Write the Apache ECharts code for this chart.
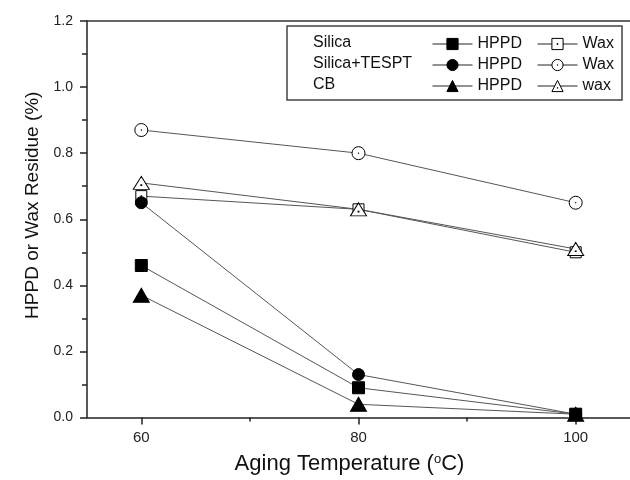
<!DOCTYPE html>
<html>
<head>
<meta charset="utf-8">
<script src="https://cdn.jsdelivr.net/npm/echarts@6/dist/echarts.min.js"></script>
<style>
  html, body { margin: 0; padding: 0; background: #fff; }
  #chart { width: 630px; height: 480px; }
</style>
</head>
<body>
<div id="chart"></div>
<script>
// data (%)
const temps = [60, 80, 100];
const silicaHppd = [0.46, 0.09, 0.01];
const silicaWax = [0.67, 0.63, 0.50];
const tesptHppd = [0.65, 0.13, 0.01];
const tesptWax = [0.87, 0.80, 0.65];
const cbHppd = [0.37, 0.04, 0.01];
const cbWax = [0.71, 0.63, 0.51];

const rowLabels = ['Silica', 'Silica+TESPT', 'CB'];
const majorTicks = [60, 80, 100];
const minorTicks = [70, 90];

const FONT = 'Liberation Sans, Arial, sans-serif';

// open markers with a dot in the middle
const openSquare = 'path://M0,0H10V10H0ZM4.6,4.6H5.4V5.4H4.6Z';
const openCircle = 'path://M0,7A7,7,0,1,1,14,7A7,7,0,1,1,0,7ZM6.6,7A0.4,0.4,0,1,1,7.4,7A0.4,0.4,0,1,1,6.6,7Z';
const openTriangle = 'path://M8,0L16,14H0ZM7.6,9H8.4V9.8H7.6Z';

const pairs = ys => temps.map((t, i) => [t, ys[i]]);

function makeSeries(name, ys, symbol, size, filled) {
    return {
        name: name,
        type: 'line',
        data: pairs(ys),
        symbol: symbol,
        symbolSize: size,
        lineStyle: { color: '#555', width: 1 },
        itemStyle: {
            color: filled ? '#000' : '#fff',
            borderColor: '#000',
            borderWidth: 1
        },
        emphasis: { disabled: true },
        animation: false
    };
}

const series = [
    makeSeries('Silica HPPD', silicaHppd, 'rect', 12, true),
    makeSeries('Silica Wax', silicaWax, openSquare, 11, false),
    makeSeries('Silica+TESPT HPPD', tesptHppd, 'circle', 12, true),
    makeSeries('Silica+TESPT Wax', tesptWax, openCircle, 13, false),
    makeSeries('CB HPPD', cbHppd, 'triangle', [16, 14], true),
    makeSeries('CB wax', cbWax, openTriangle, [16, 13], false)
];

const legendBase = {
    orient: 'vertical',
    top: 36,
    itemWidth: 40,
    itemHeight: 14,
    itemGap: 5,
    padding: 0,
    itemStyle: { borderWidth: 1 },
    lineStyle: { color: '#222', width: 1 },
    textStyle: { fontFamily: FONT, fontSize: 16, color: '#111' },
    formatter: name => name.split(' ')[1]
};

const chart = echarts.init(document.getElementById('chart'));

chart.setOption({
    backgroundColor: '#fff',
    textStyle: { fontFamily: FONT },
    grid: { left: 87, top: 21, right: -3, bottom: 61 },
    xAxis: [
        {
            type: 'value',
            position: 'bottom',
            min: 55,
            max: 105,
            name: 'Aging Temperature ({sup|o}C)',
            nameLocation: 'middle',
            nameGap: 35,
            nameTextStyle: {
                fontFamily: FONT, fontSize: 22, color: '#111', padding: [0, 18, 0, 0],
                rich: { sup: { fontFamily: FONT, fontSize: 13, color: '#111', padding: [0, 0, 10, 0] } }
            },
            axisLine: { lineStyle: { color: '#222', width: 1.5 } },
            axisTick: { customValues: majorTicks, length: 7, lineStyle: { color: '#222', width: 1.5 } },
            axisLabel: { customValues: majorTicks, margin: 13, fontSize: 15, color: '#222' },
            splitLine: { show: false }
        },
        {
            type: 'value',
            position: 'bottom',
            min: 55,
            max: 105,
            axisLine: { show: false },
            axisTick: { customValues: minorTicks, length: 4, lineStyle: { color: '#222', width: 1.5 } },
            axisLabel: { show: false },
            splitLine: { show: false }
        },
        {
            type: 'value',
            position: 'top',
            min: 55,
            max: 105,
            axisLine: { lineStyle: { color: '#333', width: 1.5 } },
            axisTick: { show: false },
            axisLabel: { show: false },
            splitLine: { show: false }
        }
    ],
    yAxis: {
        type: 'value',
        min: 0,
        max: 1.2,
        interval: 0.2,
        name: 'HPPD or Wax Residue (%)',
        nameLocation: 'middle',
        nameGap: 44,
        nameTextStyle: { fontFamily: FONT, fontSize: 19, color: '#111', padding: [0, 0, 0, 28] },
        axisLine: { show: true, lineStyle: { color: '#222', width: 1.5 } },
        axisTick: { show: true, length: 7, lineStyle: { color: '#222', width: 1.5 } },
        minorTick: { show: true, splitNumber: 2, length: 5, lineStyle: { color: '#222', width: 1.5 } },
        axisLabel: { margin: 14, fontSize: 14, color: '#222', formatter: v => v.toFixed(1) },
        splitLine: { show: false }
    },
    legend: [
        Object.assign({}, legendBase, {
            left: 432,
            data: ['Silica HPPD', 'Silica+TESPT HPPD', 'CB HPPD']
        }),
        Object.assign({}, legendBase, {
            left: 537,
            data: ['Silica Wax', 'Silica+TESPT Wax', 'CB wax']
        })
    ],
    graphic: [
        {
            type: 'rect',
            shape: { x: 287, y: 26, width: 335, height: 74 },
            style: { fill: '#fff', stroke: '#444', lineWidth: 1.5 },
            z: -1
        }
    ].concat(rowLabels.map((label, i) => ({
        type: 'text',
        left: 313,
        top: 35 + i * 21,
        style: { text: label, fontFamily: FONT, fontSize: 16, fill: '#111' }
    }))),
    series: series
});
</script>
</body>
</html>
